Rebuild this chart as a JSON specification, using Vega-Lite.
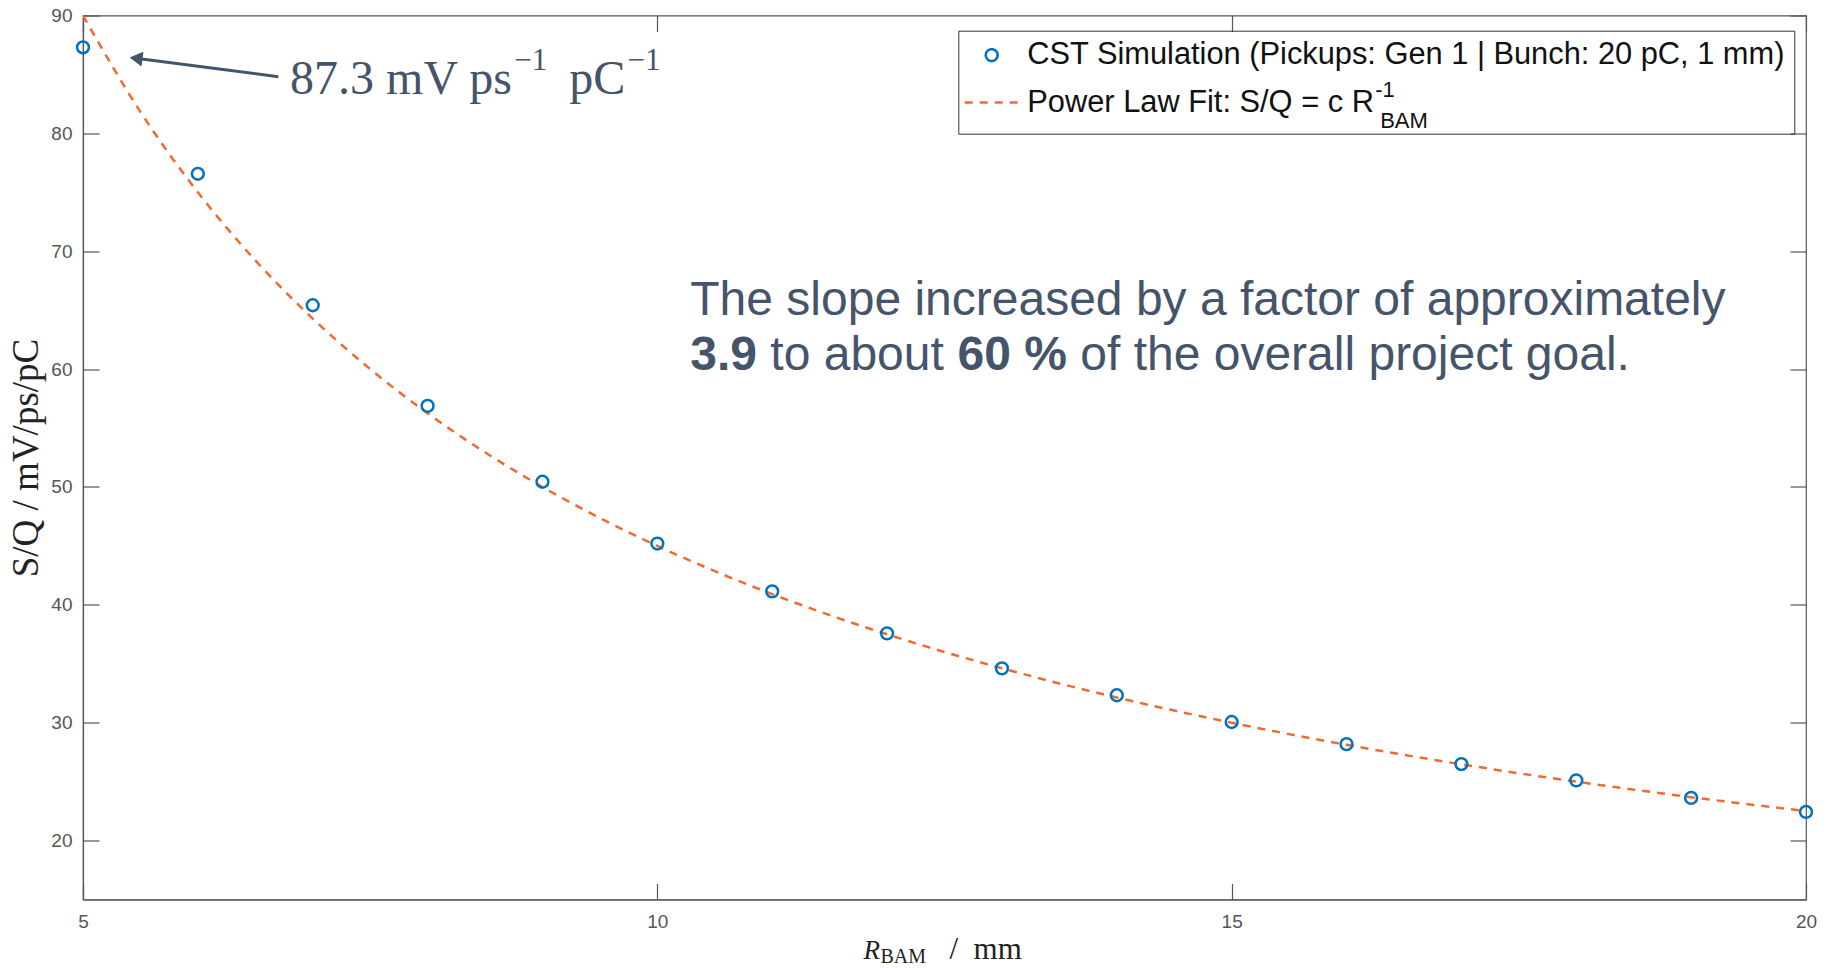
{
  "$schema": "https://vega.github.io/schema/vega-lite/v6.json",
  "width": 1723,
  "height": 884,
  "autosize": {"type": "none"},
  "padding": {"left": 83, "top": 15.5, "right": 23, "bottom": 68.5},
  "background": "white",
  "config": {
    "view": {"stroke": "#555555", "strokeWidth": 1.2},
    "axis": {
      "grid": false,
      "domainColor": "#555555",
      "tickColor": "#555555",
      "labelColor": "#555555",
      "labelFont": "Liberation Sans",
      "labelFontSize": 19,
      "labelFlush": false,
      "tickSize": -16,
      "tickWidth": 1.2,
      "domainWidth": 1.2
    },
    "text": {"font": "Liberation Sans"}
  },
  "layer": [
    {
      "data": {"values": [
        {"R": 5, "SQ": 90, "series": "Power Law Fit: S/Q = c R"},
        {"R": 5.5, "SQ": 81.82, "series": "Power Law Fit: S/Q = c R"},
        {"R": 6, "SQ": 75, "series": "Power Law Fit: S/Q = c R"},
        {"R": 6.5, "SQ": 69.23, "series": "Power Law Fit: S/Q = c R"},
        {"R": 7, "SQ": 64.29, "series": "Power Law Fit: S/Q = c R"},
        {"R": 7.5, "SQ": 60, "series": "Power Law Fit: S/Q = c R"},
        {"R": 8, "SQ": 56.25, "series": "Power Law Fit: S/Q = c R"},
        {"R": 8.5, "SQ": 52.94, "series": "Power Law Fit: S/Q = c R"},
        {"R": 9, "SQ": 50, "series": "Power Law Fit: S/Q = c R"},
        {"R": 9.5, "SQ": 47.37, "series": "Power Law Fit: S/Q = c R"},
        {"R": 10, "SQ": 45, "series": "Power Law Fit: S/Q = c R"},
        {"R": 10.5, "SQ": 42.86, "series": "Power Law Fit: S/Q = c R"},
        {"R": 11, "SQ": 40.91, "series": "Power Law Fit: S/Q = c R"},
        {"R": 11.5, "SQ": 39.13, "series": "Power Law Fit: S/Q = c R"},
        {"R": 12, "SQ": 37.5, "series": "Power Law Fit: S/Q = c R"},
        {"R": 12.5, "SQ": 36, "series": "Power Law Fit: S/Q = c R"},
        {"R": 13, "SQ": 34.62, "series": "Power Law Fit: S/Q = c R"},
        {"R": 13.5, "SQ": 33.33, "series": "Power Law Fit: S/Q = c R"},
        {"R": 14, "SQ": 32.14, "series": "Power Law Fit: S/Q = c R"},
        {"R": 14.5, "SQ": 31.03, "series": "Power Law Fit: S/Q = c R"},
        {"R": 15, "SQ": 30, "series": "Power Law Fit: S/Q = c R"},
        {"R": 15.5, "SQ": 29.03, "series": "Power Law Fit: S/Q = c R"},
        {"R": 16, "SQ": 28.13, "series": "Power Law Fit: S/Q = c R"},
        {"R": 16.5, "SQ": 27.27, "series": "Power Law Fit: S/Q = c R"},
        {"R": 17, "SQ": 26.47, "series": "Power Law Fit: S/Q = c R"},
        {"R": 17.5, "SQ": 25.71, "series": "Power Law Fit: S/Q = c R"},
        {"R": 18, "SQ": 25, "series": "Power Law Fit: S/Q = c R"},
        {"R": 18.5, "SQ": 24.32, "series": "Power Law Fit: S/Q = c R"},
        {"R": 19, "SQ": 23.68, "series": "Power Law Fit: S/Q = c R"},
        {"R": 19.5, "SQ": 23.08, "series": "Power Law Fit: S/Q = c R"},
        {"R": 20, "SQ": 22.5, "series": "Power Law Fit: S/Q = c R"}
      ]},
      "mark": {"type": "line", "strokeWidth": 2.5, "interpolate": "monotone", "clip": true},
      "encoding": {
        "x": {"field": "R", "type": "quantitative", "scale": {"domain": [5, 20], "nice": false, "zero": false},
              "axis": {"orient": "top", "labels": false, "values": [5, 10, 15, 20], "title": null, "domain": false}},
        "y": {"field": "SQ", "type": "quantitative", "scale": {"domain": [15, 90], "nice": false, "zero": false},
              "axis": {"orient": "right", "labels": false, "values": [20, 30, 40, 50, 60, 70, 80, 90], "title": null, "domain": false}},
        "color": {"field": "series", "type": "nominal",
                  "scale": {"domain": ["CST Simulation (Pickups: Gen 1 | Bunch: 20 pC, 1 mm)", "Power Law Fit: S/Q = c R"], "range": ["#0072BD", "#F06A30"]},
                  "legend": {"title": " "}},
        "strokeDash": {"field": "series", "type": "nominal",
                  "scale": {"domain": ["CST Simulation (Pickups: Gen 1 | Bunch: 20 pC, 1 mm)", "Power Law Fit: S/Q = c R"], "range": [[1, 0], [8, 7]]},
                  "legend": {"title": " "}}
      }
    },
    {
      "data": {"values": [
        {"R": 5, "SQ": 87.3, "series": "CST Simulation (Pickups: Gen 1 | Bunch: 20 pC, 1 mm)"},
        {"R": 6, "SQ": 76.57, "series": "CST Simulation (Pickups: Gen 1 | Bunch: 20 pC, 1 mm)"},
        {"R": 7, "SQ": 65.42, "series": "CST Simulation (Pickups: Gen 1 | Bunch: 20 pC, 1 mm)"},
        {"R": 8, "SQ": 56.88, "series": "CST Simulation (Pickups: Gen 1 | Bunch: 20 pC, 1 mm)"},
        {"R": 9, "SQ": 50.44, "series": "CST Simulation (Pickups: Gen 1 | Bunch: 20 pC, 1 mm)"},
        {"R": 10, "SQ": 45.2, "series": "CST Simulation (Pickups: Gen 1 | Bunch: 20 pC, 1 mm)"},
        {"R": 11, "SQ": 41.14, "series": "CST Simulation (Pickups: Gen 1 | Bunch: 20 pC, 1 mm)"},
        {"R": 12, "SQ": 37.58, "series": "CST Simulation (Pickups: Gen 1 | Bunch: 20 pC, 1 mm)"},
        {"R": 13, "SQ": 34.61, "series": "CST Simulation (Pickups: Gen 1 | Bunch: 20 pC, 1 mm)"},
        {"R": 14, "SQ": 32.33, "series": "CST Simulation (Pickups: Gen 1 | Bunch: 20 pC, 1 mm)"},
        {"R": 15, "SQ": 30.06, "series": "CST Simulation (Pickups: Gen 1 | Bunch: 20 pC, 1 mm)"},
        {"R": 16, "SQ": 28.18, "series": "CST Simulation (Pickups: Gen 1 | Bunch: 20 pC, 1 mm)"},
        {"R": 17, "SQ": 26.49, "series": "CST Simulation (Pickups: Gen 1 | Bunch: 20 pC, 1 mm)"},
        {"R": 18, "SQ": 25.11, "series": "CST Simulation (Pickups: Gen 1 | Bunch: 20 pC, 1 mm)"},
        {"R": 19, "SQ": 23.62, "series": "CST Simulation (Pickups: Gen 1 | Bunch: 20 pC, 1 mm)"},
        {"R": 20, "SQ": 22.43, "series": "CST Simulation (Pickups: Gen 1 | Bunch: 20 pC, 1 mm)"}
      ]},
      "mark": {"type": "point", "filled": false, "strokeWidth": 2.5, "opacity": 1},
      "encoding": {
        "x": {"field": "R", "type": "quantitative", "scale": {"domain": [5, 20], "nice": false, "zero": false},
              "axis": {"orient": "bottom", "values": [5, 10, 15, 20], "title": null, "labelPadding": 29}},
        "y": {"field": "SQ", "type": "quantitative", "scale": {"domain": [15, 90], "nice": false, "zero": false},
              "axis": {"orient": "left", "values": [20, 30, 40, 50, 60, 70, 80, 90], "labelPadding": 27,
                       "title": "S/Q / mV/ps/pC", "titleFont": "Liberation Serif", "titleFontSize": 37, "titleFontWeight": "normal",
                       "titleColor": "#222222", "titleX": -57, "titleY": 442, "titleBaseline": "middle", "titleAngle": 270}},
        "color": {"field": "series", "type": "nominal",
                  "scale": {"domain": ["CST Simulation (Pickups: Gen 1 | Bunch: 20 pC, 1 mm)", "Power Law Fit: S/Q = c R"], "range": ["#0072BD", "#F06A30"]},
                  "legend": {
                    "title": " ", "titleOrient": "bottom", "titleFontSize": 1, "titlePadding": 6,
                    "orient": "none", "legendX": 875.3, "legendY": 15.2, "direction": "vertical",
                    "strokeColor": "#333333", "padding": 9,
                    "symbolOffset": -4.1, "symbolStrokeWidth": 2.5, "symbolFillColor": "transparent",
                    "labelFont": "Liberation Sans", "labelFontSize": 30.8, "labelColor": "#111111", "labelOffset": 7.1, "labelLimit": 1200,
                    "rowPadding": 3.3
                  }},
        "shape": {"field": "series", "type": "nominal",
                  "scale": {"domain": ["CST Simulation (Pickups: Gen 1 | Bunch: 20 pC, 1 mm)", "Power Law Fit: S/Q = c R"], "range": ["circle", "stroke"]},
                  "legend": {"title": " "}},
        "size": {"field": "series", "type": "nominal",
                  "scale": {"domain": ["CST Simulation (Pickups: Gen 1 | Bunch: 20 pC, 1 mm)", "Power Law Fit: S/Q = c R"], "range": [140, 2916]},
                  "legend": {"title": " "}}
      }
    },
    {
      "data": {"values": [{"x1": 6.70, "y1": 84.81, "x2": 5.4617, "y2": 86.37}]},
      "mark": {"type": "rule", "color": "#44546A", "strokeWidth": 3},
      "encoding": {
        "x": {"field": "x1", "type": "quantitative", "scale": {"domain": [5, 20], "nice": false, "zero": false}, "axis": null},
        "y": {"field": "y1", "type": "quantitative", "scale": {"domain": [15, 90], "nice": false, "zero": false}, "axis": null},
        "x2": {"field": "x2"},
        "y2": {"field": "y2"}
      }
    },
    {
      "data": {"values": [{"x": 5.4617, "y": 86.37}]},
      "mark": {"type": "point", "shape": "triangle-left", "filled": true, "size": 225, "angle": 7.4, "color": "#44546A", "opacity": 1},
      "encoding": {
        "x": {"field": "x", "type": "quantitative", "scale": {"domain": [5, 20], "nice": false, "zero": false}, "axis": null},
        "y": {"field": "y", "type": "quantitative", "scale": {"domain": [15, 90], "nice": false, "zero": false}, "axis": null}
      }
    },
    {
      "data": {"values": [{"x": 6.803, "y": 83.34, "t": "87.3 mV ps"}, {"x": 9.233, "y": 83.34, "t": "pC"}]},
      "mark": {"type": "text", "font": "Liberation Serif", "fontSize": 48, "align": "left", "baseline": "alphabetic", "color": "#44546A"},
      "encoding": {
        "x": {"field": "x", "type": "quantitative", "scale": {"domain": [5, 20], "nice": false, "zero": false}, "axis": null},
        "y": {"field": "y", "type": "quantitative", "scale": {"domain": [15, 90], "nice": false, "zero": false}, "axis": null},
        "text": {"field": "t"}
      }
    },
    {
      "data": {"values": [{"x": 8.755, "y": 85.38, "t": "−1"}, {"x": 9.74, "y": 85.38, "t": "−1"}]},
      "mark": {"type": "text", "font": "Liberation Serif", "fontSize": 31, "align": "left", "baseline": "alphabetic", "color": "#44546A"},
      "encoding": {
        "x": {"field": "x", "type": "quantitative", "scale": {"domain": [5, 20], "nice": false, "zero": false}, "axis": null},
        "y": {"field": "y", "type": "quantitative", "scale": {"domain": [15, 90], "nice": false, "zero": false}, "axis": null},
        "text": {"field": "t"}
      }
    },
    {
      "data": {"values": [
        {"x": 10.287, "y": 64.59, "t": "The slope increased by a factor of approximately"},
        {"x": 10.984, "y": 59.92, "t": "to about"},
        {"x": 13.682, "y": 59.92, "t": "of the overall project goal."}
      ]},
      "mark": {"type": "text", "font": "Liberation Sans", "fontSize": 48, "align": "left", "baseline": "alphabetic", "color": "#44546A"},
      "encoding": {
        "x": {"field": "x", "type": "quantitative", "scale": {"domain": [5, 20], "nice": false, "zero": false}, "axis": null},
        "y": {"field": "y", "type": "quantitative", "scale": {"domain": [15, 90], "nice": false, "zero": false}, "axis": null},
        "text": {"field": "t"}
      }
    },
    {
      "data": {"values": [
        {"x": 10.287, "y": 59.92, "t": "3.9"},
        {"x": 12.613, "y": 59.92, "t": "60 %"}
      ]},
      "mark": {"type": "text", "font": "Liberation Sans", "fontSize": 48, "fontWeight": "bold", "align": "left", "baseline": "alphabetic", "color": "#44546A"},
      "encoding": {
        "x": {"field": "x", "type": "quantitative", "scale": {"domain": [5, 20], "nice": false, "zero": false}, "axis": null},
        "y": {"field": "y", "type": "quantitative", "scale": {"domain": [15, 90], "nice": false, "zero": false}, "axis": null},
        "text": {"field": "t"}
      }
    },
    {
      "data": {"values": [
        {"x": 16.25, "y": 83.085, "t": "-1"},
        {"x": 16.293, "y": 80.455, "t": "BAM"}
      ]},
      "mark": {"type": "text", "font": "Liberation Sans", "fontSize": 22, "align": "left", "baseline": "alphabetic", "color": "#111111"},
      "encoding": {
        "x": {"field": "x", "type": "quantitative", "scale": {"domain": [5, 20], "nice": false, "zero": false}, "axis": null},
        "y": {"field": "y", "type": "quantitative", "scale": {"domain": [15, 90], "nice": false, "zero": false}, "axis": null},
        "text": {"field": "t"}
      }
    },
    {
      "data": {"values": [{"x": 11.794, "y": 9.92, "t": "R"}]},
      "mark": {"type": "text", "font": "Liberation Serif", "fontStyle": "italic", "fontSize": 27, "align": "left", "baseline": "alphabetic", "color": "#222222"},
      "encoding": {
        "x": {"field": "x", "type": "quantitative", "scale": {"domain": [5, 20], "nice": false, "zero": false}, "axis": null},
        "y": {"field": "y", "type": "quantitative", "scale": {"domain": [15, 90], "nice": false, "zero": false}, "axis": null},
        "text": {"field": "t"}
      }
    },
    {
      "data": {"values": [{"x": 11.942, "y": 9.58, "t": "BAM"}]},
      "mark": {"type": "text", "font": "Liberation Serif", "fontSize": 20, "align": "left", "baseline": "alphabetic", "color": "#222222"},
      "encoding": {
        "x": {"field": "x", "type": "quantitative", "scale": {"domain": [5, 20], "nice": false, "zero": false}, "axis": null},
        "y": {"field": "y", "type": "quantitative", "scale": {"domain": [15, 90], "nice": false, "zero": false}, "axis": null},
        "text": {"field": "t"}
      }
    },
    {
      "data": {"values": [{"x": 12.543, "y": 9.92, "t": "/"}, {"x": 12.753, "y": 9.92, "t": "mm"}]},
      "mark": {"type": "text", "font": "Liberation Serif", "fontSize": 31, "align": "left", "baseline": "alphabetic", "color": "#222222"},
      "encoding": {
        "x": {"field": "x", "type": "quantitative", "scale": {"domain": [5, 20], "nice": false, "zero": false}, "axis": null},
        "y": {"field": "y", "type": "quantitative", "scale": {"domain": [15, 90], "nice": false, "zero": false}, "axis": null},
        "text": {"field": "t"}
      }
    }
  ],
  "resolve": {"axis": {"x": "independent", "y": "independent"}}
}
